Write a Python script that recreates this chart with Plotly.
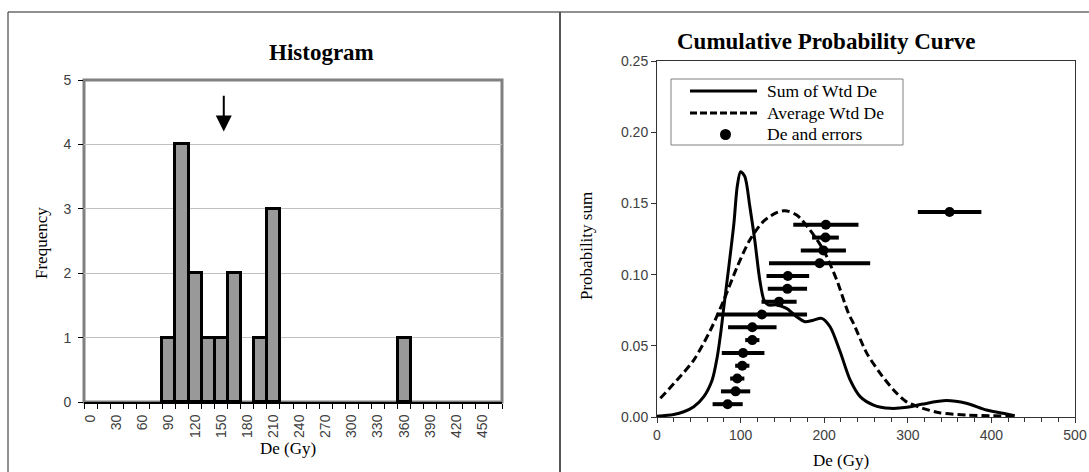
import plotly.graph_objects as go

W, H = 1089, 472

# ---------------- data ----------------
# Histogram bins (upper limit of each 15 Gy bin) and frequencies
hist_bins = [0, 15, 30, 45, 60, 75, 90, 105, 120, 135, 150, 165, 180, 195, 210, 225,
             240, 255, 270, 285, 300, 315, 330, 345, 360, 375, 390, 405, 420, 435, 450, 465]
hist_counts = [0, 0, 0, 0, 0, 0, 1, 4, 2, 1, 1, 2, 0, 1, 3, 0,
               0, 0, 0, 0, 0, 0, 0, 0, 1, 0, 0, 0, 0, 0, 0, 0]
hist_tick_labels = [0, 30, 60, 90, 120, 150, 180, 210, 240, 270, 300, 330, 360, 390, 420, 450]
mean_de = 153

# Individual De values (Gy), 1-sigma errors and their stacking height
de_values = [84.5, 94, 96, 102, 103, 114, 114, 125.5, 146, 156, 156.5, 194.5, 199, 201.5, 202, 350]
de_errors = [18, 17.5, 8.5, 8.5, 25.5, 8.5, 29, 54, 21, 23.5, 25.5, 60.5, 27, 16, 39, 38]
de_rank_y = [0.009, 0.018, 0.027, 0.036, 0.045, 0.054, 0.063, 0.072,
             0.081, 0.090, 0.099, 0.108, 0.117, 0.126, 0.135, 0.144]

# Sum of weighted De (probability sum)
sum_x = [0, 20, 32, 44, 56, 66, 72, 76, 80, 86, 92, 96, 100, 105, 111, 117, 123, 128, 133,
         143, 155, 167, 177, 187, 197, 207, 219, 231, 243, 259, 279, 299, 318, 346, 370,
         394, 418, 428]
sum_y = [0.0005, 0.0018, 0.0037, 0.0072, 0.0143, 0.026, 0.042, 0.058, 0.0775, 0.106, 0.136,
         0.162, 0.1723, 0.169, 0.148, 0.124, 0.096, 0.082, 0.0787, 0.0787, 0.0763, 0.0704,
         0.0669, 0.068, 0.0693, 0.0634, 0.046, 0.026, 0.0143, 0.0084, 0.0061, 0.0068,
         0.0091, 0.0115, 0.0096, 0.0049, 0.0021, 0.0009]

# Average weighted De
avg_x = [4, 24, 44, 64, 80, 96, 111, 127, 143, 153, 167, 183, 199, 215, 229, 235, 251,
         267, 283, 298, 318, 338, 370, 398, 426]
avg_y = [0.0131, 0.026, 0.040, 0.0611, 0.0822, 0.1056, 0.1243, 0.1372, 0.1435, 0.1449,
         0.1419, 0.1313, 0.1173, 0.0962, 0.0728, 0.0658, 0.0447, 0.0307, 0.019, 0.0108,
         0.0061, 0.003, 0.0014, 0.0009, 0.0006]

SERIF = "Liberation Serif, Times New Roman, serif"
SANS = "Liberation Sans, Arial, sans-serif"


def px(x):
    return x / W


def py(y):
    return 1 - y / H


fig = go.Figure()

# ---------------- histogram ----------------
bx = [b for b, c in zip(hist_bins, hist_counts) if c > 0]
by = [c for c in hist_counts if c > 0]
fig.add_trace(go.Bar(
    x=bx, y=by, width=15,
    marker=dict(color="#999999", line=dict(color="black", width=3)),
    xaxis="x", yaxis="y", showlegend=False,
))

# ---------------- probability curves ----------------
fig.add_trace(go.Scatter(
    x=sum_x, y=sum_y, mode="lines", name="Sum of Wtd De",
    line=dict(color="black", width=3, shape="spline", smoothing=0.8),
    xaxis="x2", yaxis="y2", showlegend=False,
))
fig.add_trace(go.Scatter(
    x=avg_x, y=avg_y, mode="lines", name="Average Wtd De",
    line=dict(color="black", width=3, dash="8px,4px", shape="spline", smoothing=0.8),
    xaxis="x2", yaxis="y2", showlegend=False,
))
fig.add_trace(go.Scatter(
    x=de_values, y=de_rank_y, mode="markers", name="De and errors",
    marker=dict(color="black", size=10),
    error_x=dict(type="data", array=de_errors, visible=True, color="black",
                 thickness=4, width=0),
    xaxis="x2", yaxis="y2", showlegend=False,
))

tickfont = dict(family=SANS, size=14, color="#404040")

# ---------------- layout ----------------
fig.update_layout(
    width=W, height=H,
    margin=dict(l=0, r=0, t=0, b=0, pad=0, autoexpand=False),
    paper_bgcolor="white", plot_bgcolor="white",
    bargap=0,
    xaxis=dict(
        domain=[px(84), px(502)], anchor="y",
        range=[-7.5, 472.5],
        tickmode="array", tickvals=hist_tick_labels,
        ticktext=[str(v) for v in hist_tick_labels],
        tickangle=-90, tickfont=tickfont,
        ticks="outside", ticklen=5, tickcolor="rgba(0,0,0,0)",
        minor=dict(tick0=-7.5, dtick=15, ticks="outside", ticklen=5,
                   tickcolor="black", showgrid=False),
        showgrid=False, zeroline=False,
        showline=True, linecolor="black", linewidth=2,
    ),
    yaxis=dict(
        domain=[py(402), py(80)], anchor="x",
        range=[0, 5], dtick=1, tickfont=tickfont,
        ticks="outside", ticklen=5, tickcolor="black", ticklabelstandoff=4,
        showgrid=True, gridcolor="#c0c0c0", gridwidth=1,
        zeroline=False, showline=False,
    ),
    xaxis2=dict(
        domain=[px(657), px(1075)], anchor="y2",
        range=[0, 500], dtick=100, tickfont=tickfont,
        ticks="outside", ticklen=5, tickcolor="#333",
        minor=dict(dtick=20, ticks="outside", ticklen=4, tickcolor="#333", showgrid=False),
        showgrid=False, zeroline=False,
        showline=True, linecolor="#333", linewidth=1, mirror=True,
    ),
    yaxis2=dict(
        domain=[py(417), py(61)], anchor="x2",
        range=[0, 0.25], dtick=0.05, tickformat=".2f", tickfont=tickfont,
        ticks="outside", ticklen=5, tickcolor="#333",
        showgrid=False, zeroline=False,
        showline=True, linecolor="#333", linewidth=1, mirror=True,
    ),
)

shapes = [
    # outer frame and panel divider
    dict(type="line", xref="paper", yref="paper", x0=px(8), x1=1, y0=py(12), y1=py(12),
         line=dict(color="#222", width=1)),
    dict(type="line", xref="paper", yref="paper", x0=px(8), x1=px(8), y0=0, y1=py(12),
         line=dict(color="#222", width=1)),
    dict(type="line", xref="paper", yref="paper", x0=px(560), x1=px(560), y0=0, y1=py(12),
         line=dict(color="#555", width=2)),
    # histogram plot-area border
    dict(type="rect", xref="x domain", yref="y domain", x0=0, x1=1, y0=0, y1=1,
         line=dict(color="#808080", width=3), layer="below"),
    # legend box
    dict(type="rect", xref="paper", yref="paper", x0=px(671), x1=px(903), y0=py(145), y1=py(79),
         line=dict(color="#808080", width=1), fillcolor="white"),
    dict(type="line", xref="paper", yref="paper", x0=px(690), x1=px(757), y0=py(91), y1=py(91),
         line=dict(color="black", width=3)),
    dict(type="line", xref="paper", yref="paper", x0=px(690), x1=px(757), y0=py(113), y1=py(113),
         line=dict(color="black", width=3, dash="7px,3px")),
    dict(type="circle", xref="paper", yref="paper", x0=px(720), x1=px(731), y0=py(140), y1=py(129),
         line=dict(color="black", width=0), fillcolor="black"),
]
fig.update_layout(shapes=shapes)


def label(text, x, y, size=17, angle=0, xanchor="center"):
    return dict(text=text, x=px(x), y=py(y), xref="paper", yref="paper",
                xanchor=xanchor, yanchor="middle", textangle=angle, showarrow=False,
                font=dict(family=SERIF, size=size, color="black"))


annotations = [
    label("<b>Histogram</b>", 321, 52, size=23),
    label("<b>Cumulative Probability Curve</b>", 826, 42, size=23),
    label("Frequency", 42, 243, angle=-90),
    label("De (Gy)", 288, 448),
    label("Probability sum", 586, 246, angle=-90),
    label("De (Gy)", 841, 460),
    # legend labels
    label("Sum of Wtd De", 765, 91, size=17.5, xanchor="left"),
    label("Average Wtd De", 765, 113, size=17.5, xanchor="left"),
    label("De and errors", 765, 134, size=17.5, xanchor="left"),
    # arrow marking the mean De on the histogram
    dict(text="", x=mean_de, y=4.2, ax=mean_de, ay=4.78, xref="x", yref="y",
         axref="x", ayref="y", showarrow=True, arrowhead=2, arrowsize=1.6,
         arrowwidth=2, arrowcolor="black", standoff=0),
]
fig.update_layout(annotations=annotations)

fig.write_html("out.html")
